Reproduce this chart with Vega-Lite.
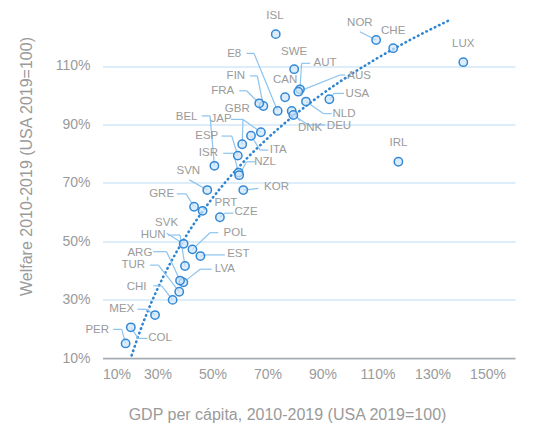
{
  "$schema": "https://vega.github.io/schema/vega-lite/v6.json",
  "width": 412.5,
  "height": 344.6,
  "autosize": {"type": "none"},
  "padding": {"left": 102.5, "top": 13.4, "right": 25, "bottom": 67},
  "config": {"font": "Liberation Sans", "view": {"stroke": null}},
  "data": {"values": [
    {"c": "ISL", "gdp": 73.0, "welfare": 120.9, "lg": 72.7, "lw": 127.1},
    {"c": "NOR", "gdp": 109.5, "welfare": 118.9, "lg": 103.6, "lw": 124.8, "kg": 103.6, "kw": 121.7},
    {"c": "CHE", "gdp": 115.7, "welfare": 116.1, "lg": 115.7, "lw": 122.1},
    {"c": "LUX", "gdp": 141.2, "welfare": 111.3, "lg": 141.2, "lw": 117.5},
    {"c": "IRL", "gdp": 117.6, "welfare": 77.2, "lg": 117.6, "lw": 83.5},
    {"c": "SWE", "gdp": 79.7, "welfare": 108.9, "lg": 79.7, "lw": 114.9},
    {"c": "E8", "gdp": 73.7, "welfare": 94.6, "lg": 57.9, "lw": 114.0, "kg": 65.1, "kw": 114.3, "eg": 62.4},
    {"c": "AUT", "gdp": 81.8, "welfare": 102.0, "lg": 90.9, "lw": 110.9, "kg": 82.4, "kw": 110.9, "eg": 85.5},
    {"c": "CAN", "gdp": 76.4, "welfare": 99.3, "lg": 76.4, "lw": 105.2},
    {"c": "AUS", "gdp": 81.2, "welfare": 101.2, "lg": 103.3, "lw": 106.6, "kg": 96.4, "kw": 106.9, "eg": 98.2},
    {"c": "USA", "gdp": 92.5, "welfare": 98.6, "lg": 102.7, "lw": 100.4, "kg": 94.2, "kw": 100.6, "eg": 97.8},
    {"c": "NLD", "gdp": 84.0, "welfare": 97.8, "lg": 97.8, "lw": 93.7, "kg": 90.3, "kw": 93.7, "eg": 93.3},
    {"c": "DNK", "gdp": 78.8, "welfare": 94.6, "lg": 85.5, "lw": 88.7, "kg": 81.8, "kw": 91.2},
    {"c": "DEU", "gdp": 79.4, "welfare": 93.2, "lg": 96.0, "lw": 89.5, "kg": 84.8, "kw": 89.8, "eg": 90.9},
    {"c": "FIN", "gdp": 68.5, "welfare": 96.3, "lg": 58.5, "lw": 106.6, "kg": 66.3, "kw": 106.6, "eg": 63.6},
    {"c": "FRA", "gdp": 67.0, "welfare": 97.2, "lg": 53.7, "lw": 101.4, "kg": 62.4, "kw": 101.5, "eg": 59.7},
    {"c": "GBR", "gdp": 67.6, "welfare": 87.3, "lg": 59.0, "lw": 95.1, "kg": 61.1, "kw": 91.7},
    {"c": "JAP", "gdp": 60.8, "welfare": 83.2, "lg": 53.1, "lw": 91.7, "kg": 61.1, "kw": 91.7, "eg": 56.7},
    {"c": "BEL", "gdp": 50.7, "welfare": 75.8, "lg": 40.6, "lw": 92.4, "kg": 49.1, "kw": 92.9, "eg": 46.1},
    {"c": "ITA", "gdp": 64.0, "welfare": 86.1, "lg": 73.9, "lw": 81.2, "kg": 67.3, "kw": 81.2, "eg": 70.3},
    {"c": "ESP", "gdp": 59.2, "welfare": 79.3, "lg": 47.9, "lw": 86.0, "kg": 57.0, "kw": 86.0, "eg": 53.3},
    {"c": "ISR", "gdp": 59.5, "welfare": 73.5, "lg": 48.5, "lw": 80.1, "kg": 57.6, "kw": 80.1, "eg": 53.9},
    {"c": "NZL", "gdp": 59.7, "welfare": 72.6, "lg": 69.1, "lw": 77.2, "kg": 62.4, "kw": 77.2, "eg": 65.5},
    {"c": "SVN", "gdp": 48.1, "welfare": 67.5, "lg": 41.2, "lw": 74.0, "kg": 41.6, "kw": 71.0},
    {"c": "KOR", "gdp": 61.2, "welfare": 67.5, "lg": 73.3, "lw": 68.5, "kg": 66.7, "kw": 68.1},
    {"c": "GRE", "gdp": 43.3, "welfare": 61.8, "lg": 31.5, "lw": 66.1, "kg": 40.4, "kw": 66.2, "eg": 37.0},
    {"c": "PRT", "gdp": 46.4, "welfare": 60.4, "lg": 54.9, "lw": 63.2},
    {"c": "CZE", "gdp": 52.7, "welfare": 58.2, "lg": 62.2, "lw": 59.9, "kg": 54.5, "kw": 59.6, "eg": 57.6},
    {"c": "SVK", "gdp": 39.5, "welfare": 49.1, "lg": 33.3, "lw": 56.3, "kg": 33.3, "kw": 52.7},
    {"c": "HUN", "gdp": 40.0, "welfare": 41.5, "lg": 28.4, "lw": 52.1, "kg": 38.2, "kw": 52.1, "eg": 33.8},
    {"c": "POL", "gdp": 42.7, "welfare": 47.2, "lg": 58.2, "lw": 52.7, "kg": 49.1, "kw": 52.9, "eg": 52.1},
    {"c": "EST", "gdp": 45.6, "welfare": 44.9, "lg": 59.4, "lw": 45.6, "kg": 47.6, "kw": 45.3, "eg": 54.5},
    {"c": "LVA", "gdp": 39.4, "welfare": 35.9, "lg": 54.5, "lw": 40.4, "kg": 45.5, "kw": 40.4, "eg": 49.7},
    {"c": "ARG", "gdp": 38.2, "welfare": 36.5, "lg": 23.6, "lw": 45.9, "kg": 33.3, "kw": 46.4, "eg": 28.5},
    {"c": "TUR", "gdp": 37.9, "welfare": 32.7, "lg": 21.2, "lw": 41.8, "kg": 30.3, "kw": 41.8, "eg": 27.3},
    {"c": "CHI", "gdp": 35.5, "welfare": 29.9, "lg": 22.4, "lw": 34.4, "kg": 31.5, "kw": 34.7, "eg": 28.5},
    {"c": "MEX", "gdp": 29.1, "welfare": 24.7, "lg": 17.0, "lw": 26.7, "kg": 25.8, "kw": 26.7, "eg": 22.7},
    {"c": "PER", "gdp": 18.4, "welfare": 15.0, "lg": 8.1, "lw": 19.6, "kg": 17.0, "kw": 19.8, "eg": 13.9},
    {"c": "COL", "gdp": 20.3, "welfare": 20.5, "lg": 30.9, "lw": 16.7, "kg": 23.0, "kw": 16.7, "eg": 26.3}
  ]},
  "encoding": {
    "x": {"field": "gdp", "type": "quantitative", "title": "GDP per cápita, 2010-2019 (USA 2019=100)",
      "scale": {"domain": [10, 160], "nice": false, "zero": false},
      "axis": {"values": [10, 30, 50, 70, 90, 110, 130, 150], "labelExpr": "datum.value + '%'", "grid": false, "ticks": false,
        "domain": true, "domainColor": "#a9a9a9", "domainWidth": 1.5, "labelPadding": 9, "labelFontSize": 14, "labelColor": "#9a9a9a",
        "titleFontSize": 16, "titleColor": "#9a9a9a", "titleFontWeight": "normal", "titleX": 184.5, "titleY": 61, "titleBaseline": "alphabetic"}},
    "y": {"field": "welfare", "type": "quantitative", "title": "Welfare 2010-2019 (USA 2019=100)",
      "scale": {"domain": [10, 128], "nice": false, "zero": false},
      "axis": {"values": [10, 30, 50, 70, 90, 110], "labelExpr": "datum.value + '%'", "grid": true, "gridColor": "#d3e7f8", "gridWidth": 1.5,
        "ticks": false, "domain": false, "labelPadding": 12.5, "labelFontSize": 14, "labelColor": "#9a9a9a",
        "titleFontSize": 16, "titleColor": "#9a9a9a", "titleFontWeight": "normal", "titleX": -70.8, "titleY": 152.6, "titleBaseline": "alphabetic", "titleAngle": -90}}
  },
  "layer": [
    {
      "transform": [{"regression": "welfare", "on": "gdp", "method": "log", "extent": [20.6, 135.7]}],
      "mark": {"type": "line", "color": "#2f85d0", "strokeWidth": 2.6, "strokeDash": [0.5, 4.2], "strokeCap": "round"}
    },
    {
      "mark": {"type": "rule", "color": "#8cc3ef", "strokeWidth": 1.2},
      "encoding": {"x2": {"field": "kg"}, "y2": {"field": "kw"}}
    },
    {
      "mark": {"type": "rule", "color": "#8cc3ef", "strokeWidth": 1.2},
      "encoding": {
        "x": {"field": "kg", "type": "quantitative", "title": "GDP per cápita, 2010-2019 (USA 2019=100)"},
        "x2": {"field": "eg"},
        "y": {"field": "kw", "type": "quantitative", "title": "Welfare 2010-2019 (USA 2019=100)"}
      }
    },
    {
      "mark": {"type": "circle", "size": 70, "fill": "#cfe4f8", "fillOpacity": 0.7, "stroke": "#3389d6", "strokeWidth": 1.5, "opacity": 1}
    },
    {
      "mark": {"type": "text", "fontSize": 11.5, "color": "#9a9a9a", "align": "center", "baseline": "middle"},
      "encoding": {
        "x": {"field": "lg", "type": "quantitative", "title": "GDP per cápita, 2010-2019 (USA 2019=100)"},
        "y": {"field": "lw", "type": "quantitative", "title": "Welfare 2010-2019 (USA 2019=100)"},
        "text": {"field": "c"}
      }
    }
  ]
}
